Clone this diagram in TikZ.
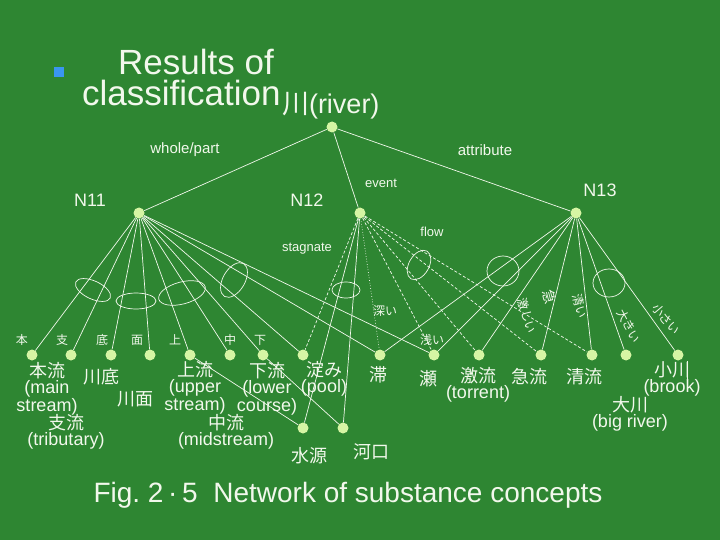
\documentclass[tikz,border=0pt]{standalone}
\usepackage{fontspec}
\setmainfont{Liberation Sans}
\newfontfamily\jp{Noto Sans CJK JP}
\usetikzlibrary{positioning}
\definecolor{board}{RGB}{46,134,50}
\definecolor{chalk}{RGB}{242,248,236}
\definecolor{pea}{RGB}{214,245,164}
\definecolor{bullet}{RGB}{58,150,240}
\tikzset{
  dot/.style={circle, fill=pea, inner sep=0pt, minimum size=11pt},
  ln/.style={chalk, line width=0.7pt},
  dsh/.style={ln, dash pattern=on 3pt off 2pt},
  dtt/.style={ln, dotted},
  lab/.style={text=chalk, inner sep=0pt, font=\fontsize{15}{17}\selectfont},
  big/.style={text=chalk, inner sep=0pt, font=\fontsize{18}{18}\selectfont},
  small/.style={text=chalk, inner sep=0pt, font=\jp\fontsize{12}{12}\selectfont},
  word/.style={text=chalk, inner sep=0pt, align=center, font=\fontsize{18}{16}\selectfont},
}
\begin{document}
\begin{tikzpicture}[x=1pt, y=-1pt]
		\fill[board] (0,0) rectangle (720,540);
		\useasboundingbox (0,0) rectangle (720,540);
		% title
		\fill[bullet] (54,67) rectangle (64,77);
		\node[text=chalk, anchor=base west, inner sep=0pt, font=\fontsize{35}{35}\selectfont] (t1) at (118,75) {Results of};
		\node[text=chalk, anchor=base west, inner sep=0pt, font=\fontsize{35}{35}\selectfont] (t2) at (82,106) {classification};
		\node[text=chalk, anchor=base west, inner sep=0pt, font=\fontsize{27}{27}\selectfont] (t3) at ([xshift=1pt, yshift=-8pt]t2.base east) {{\jp 川}(river)};
		% nodes
		\node[dot] (root) at (332,127) {};
		\node[dot] (n11) at (139,213) {};
		\node[dot] (n12) at (360,213) {};
		\node[dot] (n13) at (576,213) {};
		\node[dot] (mainstr) at (32,355) {};
		\node[dot] (tribut) at (71,355) {};
		\node[dot] (bed) at (111,355) {};
		\node[dot] (surf) at (150,355) {};
		\node[dot] (upper) at (190,355) {};
		\node[dot] (mid) at (230,355) {};
		\node[dot] (lower) at (263,355) {};
		\node[dot] (pool) at (303,355) {};
		\node[dot] (stag) at (380,355) {};
		\node[dot] (shoal) at (434,355) {};
		\node[dot] (torrent) at (479,355) {};
		\node[dot] (swift) at (541,355) {};
		\node[dot] (clear) at (592,355) {};
		\node[dot] (bigriv) at (626,355) {};
		\node[dot] (brook) at (678,355) {};
		\node[dot] (source) at (303,428) {};
		\node[dot] (mouth) at (343,428) {};
		% connectors
		\draw[ln] (root) -- (n11);
		\draw[ln] (root) -- (n12);
		\draw[ln] (root) -- (n13);
		\draw[ln] (n11) -- (mainstr);
		\draw[ln] (n11) -- (tribut);
		\draw[ln] (n11) -- (bed);
		\draw[ln] (n11) -- (surf);
		\draw[ln] (n11) -- (upper);
		\draw[ln] (n11) -- (mid);
		\draw[ln] (n11) -- (lower);
		\draw[ln] (n11) -- (pool);
		\draw[ln] (n11) -- (stag);
		\draw[ln] (n11) -- (shoal);
		\draw[ln] (upper) -- (source);
		\draw[ln] (lower) -- (mouth);
		\draw[ln] (n12) -- (source);
		\draw[ln] (n12) -- (mouth);
		\draw[dsh] (n12) -- (pool);
		\draw[dtt] (n12) -- (stag);
		\draw[dsh] (n12) -- (shoal);
		\draw[dsh] (n12) -- (torrent);
		\draw[dsh] (n12) -- (swift);
		\draw[dsh] (n12) -- (clear);
		\draw[ln] (n13) -- (stag);
		\draw[ln] (n13) -- (shoal);
		\draw[ln] (n13) -- (torrent);
		\draw[ln] (n13) -- (swift);
		\draw[ln] (n13) -- (clear);
		\draw[ln] (n13) -- (bigriv);
		\draw[ln] (n13) -- (brook);
		\draw[ln] (687,361) -- (687,384);
		% groups
		\draw[ln, rotate around={-25:(93,290)}] (93,290) ellipse [x radius=19, y radius=9];
		\draw[ln] (136,301) ellipse [x radius=20, y radius=8];
		\draw[ln, rotate around={15:(182,293)}] (182,293) ellipse [x radius=24, y radius=11];
		\draw[ln, rotate around={60:(234,280)}] (234,280) ellipse [x radius=19, y radius=11];
		\draw[ln] (346,290) ellipse [x radius=14, y radius=8];
		\draw[ln, rotate around={60:(419,265)}] (419,265) ellipse [x radius=16, y radius=10];
		\draw[ln] (503,271) ellipse [x radius=16, y radius=15];
		\draw[ln] (609,283) ellipse [x radius=16, y radius=14];
		% relation labels
		\node[lab] (wp) at (185,150) {whole/part};
		\node[lab] (attr) at (485,150) {attribute};
		\node[big] at (90,200) {N11};
		\node[big] at (307,200) {N12};
		\node[big] at (600,190) {N13};
		\node[lab, font=\fontsize{13}{13}\selectfont] at (381,183) {event};
		\node[lab, font=\fontsize{13}{13}\selectfont] at (432,232) {flow};
		\node[lab, font=\fontsize{13}{13}\selectfont] at (307,249) {stagnate};
		\node[small] at (385,311) {深い};
		\node[small] at (432,340) {浅い};
		\node[small] at (22,340) {本};
		\node[small] at (62,340) {支};
		\node[small] at (102,340) {底};
		\node[small] at (137,340) {面};
		\node[small] at (175,340) {上};
		\node[small] at (230,340) {中};
		\node[small] at (260,340) {下};
		\node[small, rotate=-75] at (527,316) {激しい};
		\node[small, font=\jp\fontsize{14}{14}\selectfont, rotate=-75] at (550,297) {急};
		\node[small, rotate=-75] at (580,306) {清い};
		\node[small, rotate=-62] at (629,326) {大きい};
		\node[small, rotate=-50] at (666,319) {小さい};
		% concept words
		\node[word, anchor=north] at (47,362) {{\jp 本流}\\(main\\stream)};
		\node[word] at (101,377) {\jp 川底};
		\node[word] at (135,399) {\jp 川面};
		\node[word, anchor=north] at (66,414) {{\jp 支流}\\(tributary)};
		\node[word, anchor=north] at (195,361) {{\jp 上流}\\(upper\\stream)};
		\node[word, anchor=north] at (267,362) {{\jp 下流}\\(lower\\course)};
		\node[word, anchor=north] at (324,361) {{\jp 淀み}\\(pool)};
		\node[word, anchor=north] at (226,414) {{\jp 中流}\\(midstream)};
		\node[word] at (309,456) {\jp 水源};
		\node[word] at (371,452) {\jp 河口};
		\node[word] at (378,375) {\jp 滞};
		\node[word] at (428,379) {\jp 瀬};
		\node[word, anchor=north] at (478,367) {{\jp 激流}\\(torrent)};
		\node[word] at (529,377) {\jp 急流};
		\node[word] at (584,377) {\jp 清流};
		\node[word, anchor=north] at (672,361) {{\jp 小川}\\(brook)};
		\node[word, anchor=north] at (630,396) {{\jp 大川}\\(big river)};
		% caption
		\node[text=chalk, inner sep=0pt, font=\fontsize{28}{28}\selectfont] (cap) at (348,495) {Fig.~2\,·\,5~~Network of substance concepts};
	\end{tikzpicture}
\end{document}
